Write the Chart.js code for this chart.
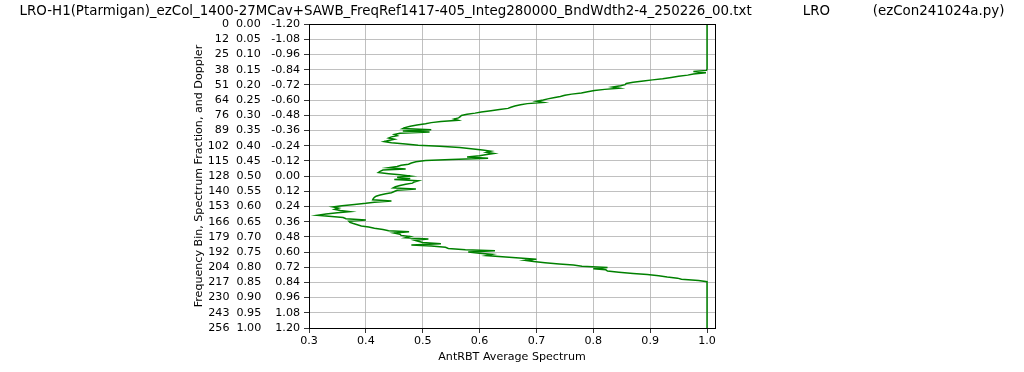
<!DOCTYPE html>
<html>
<head>
<meta charset="utf-8">
<script src="https://cdn.jsdelivr.net/npm/chart.js@4"></script>
<style>
  html, body { margin: 0; padding: 0; background: #fff; }
  #wrap { width: 1024px; height: 372px; }
</style>
</head>
<body>
<div id="wrap"><canvas id="chart"></canvas></div>
<script>
const titleText = 'LRO-H1(Ptarmigan)_ezCol_1400-27MCav+SAWB_FreqRef1417-405_Integ280000_BndWdth2-4_250226_00.txt' +
  '            LRO          (ezCon241024a.py)';

// AntRBT average spectrum, one value per frequency bin 0..256
const antRBT = [
  1.0, 1.0, 1.0, 1.0, 1.0, 1.0, 1.0, 1.0, 1.0, 1.0,
  1.0, 1.0, 1.0, 1.0, 1.0, 1.0, 1.0, 1.0, 1.0, 1.0,
  1.0, 1.0, 1.0, 1.0, 1.0, 1.0, 1.0, 1.0, 1.0, 1.0,
  1.0, 1.0, 1.0, 1.0, 1.0, 1.0, 1.0, 1.0, 1.0, 0.999,
  0.976, 0.998, 0.976, 0.966, 0.950, 0.937, 0.922, 0.904, 0.888, 0.870,
  0.858, 0.856, 0.848, 0.834, 0.846, 0.820, 0.802, 0.790, 0.779, 0.762,
  0.750, 0.742, 0.730, 0.720, 0.712, 0.700, 0.712, 0.684, 0.672, 0.662,
  0.655, 0.650, 0.635, 0.620, 0.603, 0.592, 0.578, 0.568, 0.566, 0.563,
  0.555, 0.562, 0.532, 0.515, 0.505, 0.490, 0.478, 0.470, 0.465, 0.515,
  0.465, 0.512, 0.460, 0.450, 0.455, 0.445, 0.440, 0.450, 0.440, 0.432,
  0.445, 0.470, 0.492, 0.530, 0.565, 0.585, 0.605, 0.620, 0.612, 0.625,
  0.610, 0.600, 0.578, 0.615, 0.550, 0.505, 0.488, 0.480, 0.475, 0.462,
  0.455, 0.440, 0.470, 0.430, 0.425, 0.422, 0.440, 0.460, 0.478, 0.455,
  0.478, 0.450, 0.492, 0.485, 0.482, 0.470, 0.460, 0.452, 0.448, 0.488,
  0.455, 0.450, 0.445, 0.435, 0.425, 0.418, 0.415, 0.413, 0.412, 0.445,
  0.415, 0.400, 0.380, 0.358, 0.342, 0.352, 0.345, 0.355, 0.372, 0.350,
  0.330, 0.315, 0.340, 0.360, 0.365, 0.400, 0.370, 0.372, 0.378, 0.385,
  0.392, 0.405, 0.415, 0.430, 0.440, 0.476, 0.450, 0.460, 0.462, 0.478,
  0.470, 0.510, 0.485, 0.492, 0.500, 0.532, 0.480, 0.515, 0.540, 0.545,
  0.575, 0.627, 0.580, 0.600, 0.622, 0.612, 0.640, 0.670, 0.700, 0.680,
  0.695, 0.715, 0.740, 0.765, 0.780, 0.825, 0.800, 0.822, 0.825, 0.845,
  0.870, 0.895, 0.915, 0.930, 0.948, 0.955, 0.985, 1.0, 1.0, 1.0,
  1.0, 1.0, 1.0, 1.0, 1.0, 1.0, 1.0, 1.0, 1.0, 1.0,
  1.0, 1.0, 1.0, 1.0, 1.0, 1.0, 1.0, 1.0, 1.0, 1.0,
  1.0, 1.0, 1.0, 1.0, 1.0, 1.0, 1.0, 1.0, 1.0, 1.0,
  1.0, 1.0, 1.0, 1.0, 1.0, 1.0, 1.0
];
const numBins = 256;

// y tick labels: bin, spectrum fraction, doppler
const fracTicks = [0, 0.05, 0.1, 0.15, 0.2, 0.25, 0.3, 0.35, 0.4, 0.45, 0.5,
  0.55, 0.6, 0.65, 0.7, 0.75, 0.8, 0.85, 0.9, 0.95, 1.0];
const binLabels = ['0', '12', '25', '38', '51', '64', '76', '89', '102', '115', '128',
  '140', '153', '166', '179', '192', '204', '217', '230', '243', '256'];
const fracLabels = ['0.00', '0.05', '0.10', '0.15', '0.20', '0.25', '0.30', '0.35', '0.40', '0.45', '0.50',
  '0.55', '0.60', '0.65', '0.70', '0.75', '0.80', '0.85', '0.90', '0.95', '1.00'];
const dopplerLabels = ['-1.20', '-1.08', '-0.96', '-0.84', '-0.72', '-0.60', '-0.48', '-0.36', '-0.24', '-0.12', '0.00',
  '0.12', '0.24', '0.36', '0.48', '0.60', '0.72', '0.84', '0.96', '1.08', '1.20'];

const xTicks = [0.3, 0.4, 0.5, 0.6, 0.7, 0.8, 0.9, 1.0];
const xTickLabels = ['0.3', '0.4', '0.5', '0.6', '0.7', '0.8', '0.9', '1.0'];

const FONT = 'DejaVu Sans';
const SMALL = 11.1;
Chart.defaults.font.family = FONT;
Chart.defaults.color = '#000';

const FIG = '\u2007';
function yLabel(i) {
  const b = binLabels[i].padStart(3, FIG);
  const d = dopplerLabels[i].startsWith('-') ? dopplerLabels[i] : ' ' + dopplerLabels[i];
  return b + '  ' + fracLabels[i] + '   ' + d;
}

const points = antRBT.map((v, i) => ({ x: v, y: i / numBins }));

// box around the plot area (matplotlib spines)
const frame = {
  id: 'frame',
  afterDatasetsDraw(chart) {
    const { ctx, chartArea: a } = chart;
    ctx.save();
    ctx.strokeStyle = '#000';
    ctx.lineWidth = 1;
    ctx.strokeRect(Math.round(a.left) + 0.5, Math.round(a.top) + 0.5,
      Math.round(a.right - a.left), Math.round(a.bottom - a.top));
    ctx.restore();
  }
};

new Chart(document.getElementById('chart'), {
  type: 'scatter',
  data: {
    datasets: [{
      data: points,
      showLine: true,
      borderColor: '#008000',
      backgroundColor: '#008000',
      borderWidth: 1.5,
      pointRadius: 0,
      tension: 0
    }]
  },
  options: {
    responsive: true,
    maintainAspectRatio: false,
    animation: false,
    layout: { padding: 0 },
    plugins: {
      legend: { display: false },
      tooltip: { enabled: false },
      title: {
        display: true,
        text: titleText,
        color: '#000',
        font: { size: 13.4, weight: 'normal', family: FONT, lineHeight: 1.2 },
        padding: { top: 3, bottom: 5 }
      }
    },
    scales: {
      x: {
        type: 'linear',
        min: 0.3,
        max: 1.014,
        afterBuildTicks: s => { s.ticks = xTicks.map(v => ({ value: v })); },
        afterFit: s => { s.height = 44; },
        ticks: {
          font: { size: SMALL },
          padding: 1,
          maxRotation: 0,
          autoSkip: false,
          callback: (v, i) => xTickLabels[i]
        },
        grid: { color: '#b0b0b0', lineWidth: 0.8, tickColor: '#000', tickLength: 5 },
        border: { color: '#000' },
        title: {
          display: true,
          text: 'AntRBT Average Spectrum',
          font: { size: SMALL },
          padding: { top: 0, bottom: 8 }
        }
      },
      y: {
        type: 'linear',
        reverse: true,
        min: 0,
        max: 1,
        afterBuildTicks: s => { s.ticks = fracTicks.map(v => ({ value: v })); },
        afterFit: s => { s.width = 309; },
        ticks: {
          font: { size: SMALL },
          padding: 4,
          autoSkip: false,
          callback: (v, i) => yLabel(i)
        },
        grid: { color: '#b0b0b0', lineWidth: 0.8, tickColor: '#000', tickLength: 5 },
        border: { color: '#000' },
        title: {
          display: true,
          text: 'Frequency Bin, Spectrum Fraction, and Doppler',
          font: { size: SMALL },
          padding: { top: 192, bottom: 0 }
        }
      },
      // empty right-hand axis that only reserves the margin right of the plot
      yRight: {
        type: 'linear',
        position: 'right',
        display: true,
        min: 0,
        max: 1,
        afterFit: s => { s.width = 309; },
        ticks: { display: false },
        grid: { display: false, drawTicks: false },
        border: { display: false }
      }
    }
  },
  plugins: [frame]
});
</script>
</body>
</html>
